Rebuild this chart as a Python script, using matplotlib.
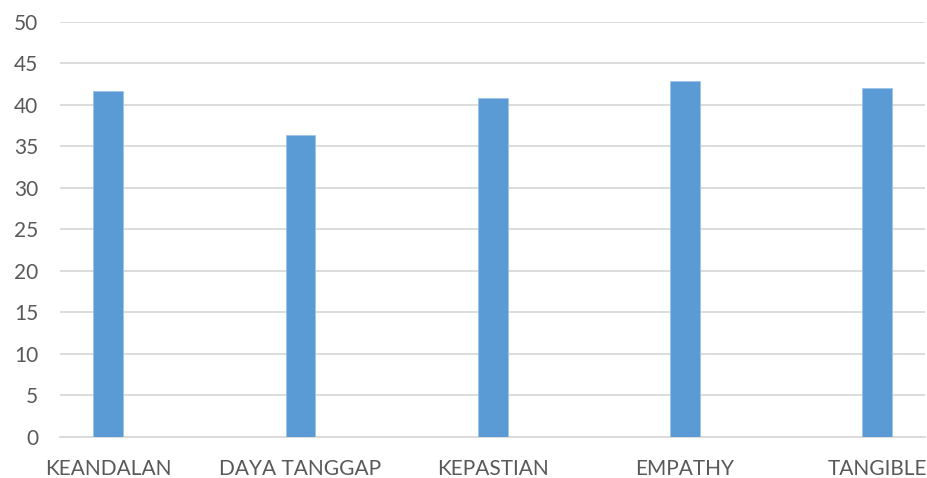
import matplotlib
matplotlib.use("Agg")
import matplotlib.pyplot as plt

categories = ["KEANDALAN", "DAYA TANGGAP", "KEPASTIAN", "EMPATHY", "TANGIBLE"]
values = [41.7, 36.4, 40.9, 42.9, 42.1]
yticks = [0, 5, 10, 15, 20, 25, 30, 35, 40, 45, 50]

plt.rcParams["font.family"] = ["Lato", "DejaVu Sans"]

fig = plt.figure(figsize=(9.27, 4.78), dpi=100)
ax = fig.add_axes([0.065, 0.086, 0.933, 0.868])

x = range(len(categories))
ax.bar(x, values, width=0.156, color="#5b9bd5", edgecolor="#9dc3e6", linewidth=0.6, zorder=3)

ax.set_xlim(-0.25, 4.25)
ax.set_ylim(0, 50)
ax.set_yticks(yticks)
ax.set_xticks(list(x))
ax.set_xticklabels(categories)
ax.grid(axis="y", color="#d9d9d9", linewidth=1.3, zorder=0)
ax.tick_params(axis="both", length=0, labelsize=15, colors="#595959")
ax.tick_params(axis="x", pad=16)
ax.tick_params(axis="y", pad=16)
for side in ["top", "right", "left"]:
    ax.spines[side].set_visible(False)
ax.spines["bottom"].set_color("#d9d9d9")
ax.spines["bottom"].set_linewidth(1.3)

fig.savefig("out.png", dpi=100)
